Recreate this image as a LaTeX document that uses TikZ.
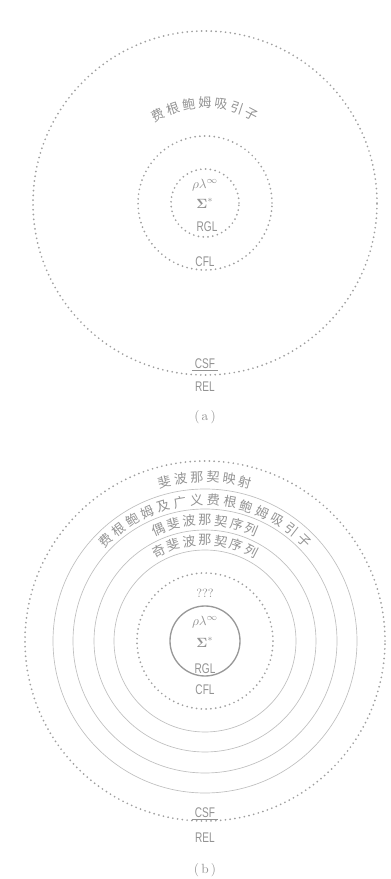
\documentclass[tikz,border=0pt]{standalone}
\usepackage{fontspec}
\newfontfamily\cjk{Noto Sans CJK SC}
\newfontfamily\narrowsf[FakeStretch=0.72]{Liberation Sans}
\usepackage{amsmath,bm}
\usetikzlibrary{positioning}

\begin{document}
\begin{tikzpicture}[x=0.75pt, y=0.75pt,
  dotring/.style={draw=gray!75, line width=1.45pt, line cap=round, dash pattern=on 0pt off 3.6pt},
  thinring/.style={draw=gray!50, line width=0.5pt},
  solidring/.style={draw=gray!80, line width=1pt},
  arc text/.style={font=\cjk\fontsize{9.8}{10}\selectfont, text=gray!85, inner sep=0pt},
  lang/.style={font=\narrowsf\fontsize{10.5}{11}\selectfont, text=gray!85, inner sep=1pt},
  sym/.style={text=gray!85, inner sep=1pt},
  caption/.style={font=\fontsize{10}{11}\selectfont, text=gray!85}]
  \useasboundingbox (0,0) rectangle (390,879);

  % (a): centre of the upper rings
  \coordinate (ca) at (205,676);
  \draw[dotring] (ca) circle[radius=172];
  \draw[dotring] (ca) circle[radius=67];
  \draw[dotring] (ca) circle[radius=34];
  \foreach \ch [count=\i] in {费,根,鲍,姆,吸,引,子}
    \node[arc text, rotate={9.3*(4-\i)}] (attr-\i) at ([shift={({90+9.3*(4-\i)}:100)}]ca) {\ch};
  \node[sym] (rla) at (205,694) {$\rho\lambda^{\infty}$};
  \node[sym] (siga) at (205,676) {$\bm{\Sigma}^{*}$};
  \node[lang] (rgla) at (207,652) {RGL};
  \node[lang] (cfla) at (205,617) {CFL};
  \node[lang] (csfa) at (205,515) {CSF};
  \node[lang] (rela) at (205,492) {REL};
  \draw[gray!85, line width=0.6pt] ([xshift=-1pt]csfa.south west) -- ([xshift=1pt]csfa.south east);
  \node[caption] (capa) at (205,462) {(\,a\,)};

  % (b): centre of the lower rings
  \coordinate (cb) at (205,238);
  \draw[dotring] (cb) circle[radius=180];
  \draw[thinring] (cb) circle[radius=152];
  \draw[thinring] (cb) circle[radius=132];
  \draw[thinring] (cb) circle[radius=111];
  \draw[thinring] (cb) circle[radius=91];
  \draw[dotring] (cb) circle[radius=68];
  \draw[solidring] (cb) circle[radius=35];
  \foreach \ch [count=\i] in {斐,波,那,契,映,射}
    \node[arc text, rotate={5.7*(3.5-\i)}] (map-\i) at ([shift={({90+5.7*(3.5-\i)}:164)}]cb) {\ch};
  \foreach \ch [count=\i] in {费,根,鲍,姆,及,广,义,费,根,鲍,姆,吸,引,子}
    \node[arc text, rotate={6.85*(7.5-\i)}] (gen-\i) at ([shift={({90+6.85*(7.5-\i)}:141)}]cb) {\ch};
  \foreach \ch [count=\i] in {偶,斐,波,那,契,序,列}
    \node[arc text, rotate={7.6*(4-\i)}] (even-\i) at ([shift={({90+7.6*(4-\i)}:121)}]cb) {\ch};
  \foreach \ch [count=\i] in {奇,斐,波,那,契,序,列}
    \node[arc text, rotate={9.1*(4-\i)}] (odd-\i) at ([shift={({90+9.1*(4-\i)}:101)}]cb) {\ch};
  \node[sym, font=\small] (qq) at (205,286) {???};
  \node[sym] (rlb) at (205,257) {$\rho\lambda^{\infty}$};
  \node[sym] (sigb) at (205,237) {$\bm{\Sigma}^{*}$};
  \node[lang] (rglb) at (205,210) {RGL};
  \node[lang] (cflb) at (205,189) {CFL};
  \node[lang] (csfb) at (205,66) {CSF};
  \node[lang] (relb) at (205,41) {REL};
  \draw[gray!85, line width=0.6pt] ([xshift=-1pt]csfb.south west) -- ([xshift=1pt]csfb.south east);
  \node[caption] (capb) at (205,9) {(\,b\,)};
\end{tikzpicture}
\end{document}
